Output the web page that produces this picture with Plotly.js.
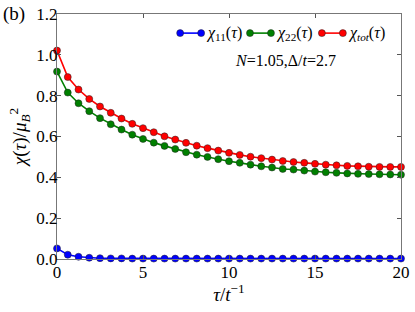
<!DOCTYPE html>
<html><head><meta charset="utf-8">
<script src="https://cdn.plot.ly/plotly-3.0.1.min.js"></script>
<style>html,body{margin:0;padding:0;background:#fff}#c{width:415px;height:312px}</style>
</head><body><div id="c"></div>
<script>
var tau = [0, 0.625, 1.25, 1.875, 2.5, 3.125, 3.75, 4.375, 5, 5.625, 6.25, 6.875, 7.5, 8.125, 8.75, 9.375, 10, 10.625, 11.25, 11.875, 12.5, 13.125, 13.75, 14.375, 15, 15.625, 16.25, 16.875, 17.5, 18.125, 18.75, 19.375, 20];
var chi11 = [0.052, 0.021, 0.011, 0.006, 0.004, 0.003, 0.003, 0.002, 0.002, 0.002, 0.002, 0.002, 0.002, 0.002, 0.002, 0.002, 0.002, 0.002, 0.002, 0.002, 0.002, 0.002, 0.002, 0.002, 0.002, 0.002, 0.002, 0.002, 0.002, 0.002, 0.002, 0.002, 0.002];
var chi22 = [0.918, 0.815, 0.763, 0.724, 0.690, 0.660, 0.634, 0.609, 0.588, 0.570, 0.554, 0.539, 0.523, 0.511, 0.500, 0.489, 0.479, 0.471, 0.462, 0.454, 0.448, 0.441, 0.438, 0.433, 0.428, 0.425, 0.422, 0.419, 0.417, 0.416, 0.415, 0.414, 0.413];
var chitot = [1.021, 0.891, 0.830, 0.784, 0.747, 0.716, 0.688, 0.662, 0.641, 0.621, 0.601, 0.585, 0.569, 0.555, 0.543, 0.531, 0.520, 0.510, 0.501, 0.494, 0.487, 0.480, 0.475, 0.471, 0.466, 0.462, 0.459, 0.456, 0.454, 0.452, 0.451, 0.451, 0.451];
var seriesNames = ['<i>χ</i><sub>11</sub>(<i>τ</i>)', '<i>χ</i><sub>22</sub>(<i>τ</i>)', '<i>χ</i><sub><i>tot</i></sub>(<i>τ</i>)'];
var seriesColors = ['#0000ff', '#008000', '#ff0000'];

(function(){
  var fam = 'Liberation Serif';
  var series = [chi11, chi22, chitot];
  var traces = series.map(function(s, i){
    return {x: tau, y: s, type: 'scatter', mode: 'lines+markers', name: seriesNames[i],
      line: {color: seriesColors[i], width: 1.6},
      marker: {color: seriesColors[i], size: 7, line: {color: '#222', width: 0.5}},
      showlegend: false, cliponaxis: false};
  });

  var legX = [[0.358, 0.419], [0.561, 0.622], [0.770, 0.831]];
  var legY = 0.922;
  var shp = [], ann = [];
  legX.forEach(function(p, i){
    shp.push({type: 'line', xref: 'paper', yref: 'paper', x0: p[0], x1: p[1], y0: legY, y1: legY,
      line: {color: seriesColors[i], width: 1.6}});
    p.forEach(function(px){
      shp.push({type: 'circle', xref: 'paper', yref: 'paper', xsizemode: 'pixel', ysizemode: 'pixel',
        xanchor: px, yanchor: legY, x0: -3.5, x1: 3.5, y0: -3.5, y1: 3.5,
        fillcolor: seriesColors[i], line: {color: '#222', width: 0.5}});
    });
    ann.push({xref: 'paper', yref: 'paper', x: p[1] + 0.008, y: legY, xanchor: 'left', yanchor: 'middle',
      text: seriesNames[i], showarrow: false, font: {family: fam, size: 16, color: '#000'}});
  });
  ann.push({xref: 'paper', yref: 'paper', x: 0.663, y: 0.812, xanchor: 'center', yanchor: 'middle',
    text: '<i>N</i>=1.05,Δ/<i>t</i>=2.7', showarrow: false, font: {family: fam, size: 16, color: '#000'}});
  ann.push({xref: 'paper', yref: 'paper', x: -0.163, y: 1.0, xanchor: 'left', yanchor: 'middle',
    text: '(b)', showarrow: false, font: {family: fam, size: 19, color: '#000'}});

  function ax(extra){
    var a = {showgrid: false, zeroline: false, showline: true, linecolor: '#777', linewidth: 1.2,
      ticks: 'inside', ticklen: 4, tickcolor: '#555', mirror: 'ticks',
      tickfont: {family: fam, size: 17, color: '#000'}};
    for (var k in extra) a[k] = extra[k];
    return a;
  }
  var layout = {
    width: 415, height: 312,
    margin: {l: 57, r: 14, t: 14, b: 53},
    paper_bgcolor: '#fff', plot_bgcolor: '#fff',
    xaxis: ax({range: [0, 20], dtick: 5, tick0: 0, ticklabelstandoff: -3,
      title: {text: '<i>τ</i>/<i>t</i><sup>−1</sup>', font: {family: fam, size: 19, color: '#000'}, standoff: 2}}),
    yaxis: ax({range: [0, 1.2], dtick: 0.2, tick0: 0, tickformat: '.1f', ticklabelstandoff: -5,
      title: {text: '<i>χ</i>(<i>τ</i>)/<i>μ</i><sub><i>B</i></sub><sup>2</sup>', font: {family: fam, size: 19, color: '#000'}, standoff: 4}}),
    shapes: shp, annotations: ann, showlegend: false
  };
  Plotly.newPlot('c', traces, layout, {displayModeBar: false});
})();
</script></body></html>
